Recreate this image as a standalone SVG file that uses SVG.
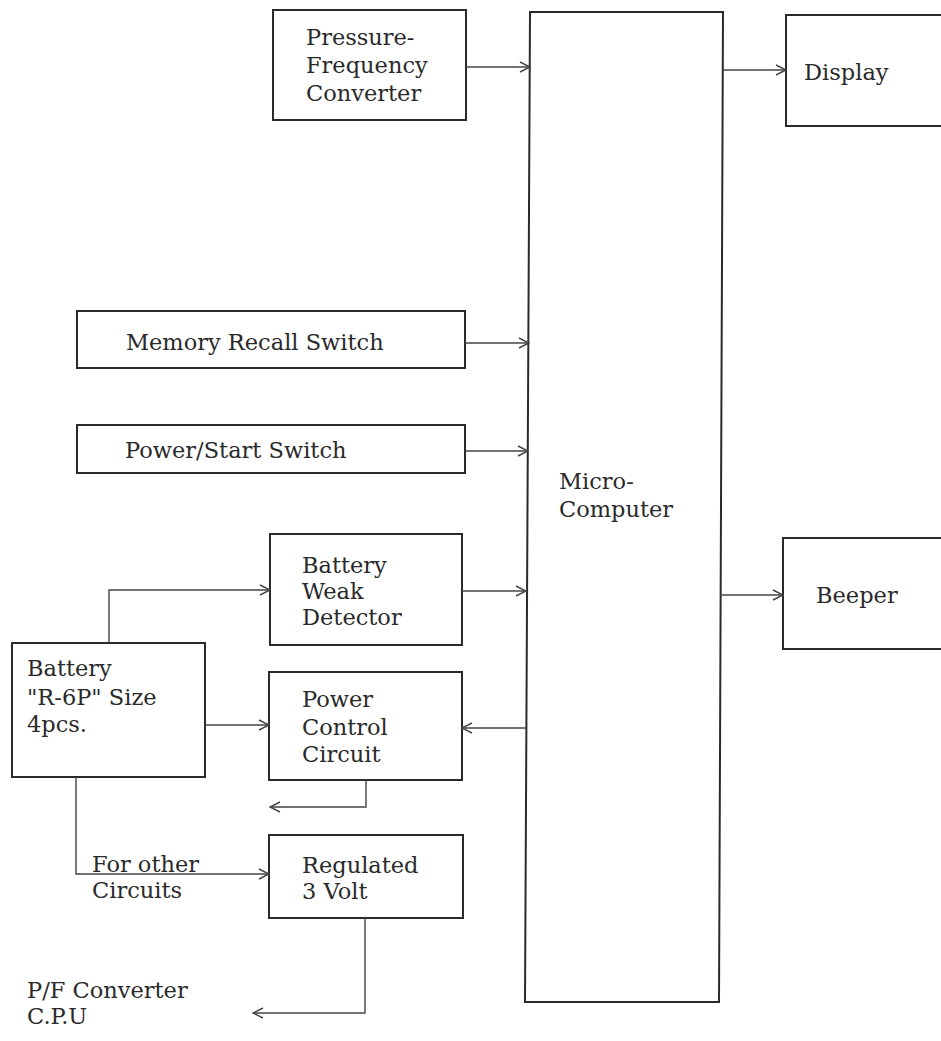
<svg xmlns="http://www.w3.org/2000/svg" width="941" height="1041" viewBox="0 0 941 1041">
<defs>
<style>
.box{fill:none;stroke:#2a2a2a;stroke-width:2}
.ln{fill:none;stroke:#444;stroke-width:1.4}
text{font-family:"DejaVu Serif","Liberation Serif",serif;font-size:22.5px;fill:#2a2a2a}
</style>
<marker id="arr" viewBox="0 0 12 12" refX="11" refY="6" markerWidth="12" markerHeight="12" markerUnits="userSpaceOnUse" orient="auto">
<path d="M1,1 L11,6 L1,11" fill="none" stroke="#444" stroke-width="1.4"/>
</marker>
</defs>
<rect width="941" height="1041" fill="#ffffff"/>
<g id="pf-converter"><rect class="box" x="273" y="10" width="193" height="110"/>
<text x="306" y="45">Pressure-</text><text x="306" y="73">Frequency</text><text x="306" y="101">Converter</text></g>
<g id="microcomputer"><path class="box" d="M530,12 H723 L719,1002 H525 Z"/>
<text x="559" y="489">Micro-</text><text x="559" y="517">Computer</text></g>
<g id="display"><rect class="box" x="786" y="15" width="170" height="111"/>
<text x="804" y="80">Display</text></g>
<g id="memory-recall"><rect class="box" x="77" y="311" width="388" height="57"/>
<text x="126" y="350">Memory Recall Switch</text></g>
<g id="power-start"><rect class="box" x="77" y="425" width="388" height="48"/>
<text x="125" y="458">Power/Start Switch</text></g>
<g id="battery-weak"><rect class="box" x="270" y="534" width="192" height="111"/>
<text x="302" y="573">Battery</text><text x="302" y="599">Weak</text><text x="302" y="625">Detector</text></g>
<g id="beeper"><rect class="box" x="783" y="538" width="170" height="111"/>
<text x="816" y="603">Beeper</text></g>
<g id="battery"><rect class="box" x="12" y="643" width="193" height="134"/>
<text x="27" y="676">Battery</text><text x="27" y="705">"R-6P" Size</text><text x="27" y="732">4pcs.</text></g>
<g id="power-control"><rect class="box" x="269" y="672" width="193" height="108"/>
<text x="302" y="707">Power</text><text x="302" y="735">Control</text><text x="302" y="762">Circuit</text></g>
<g id="regulated"><rect class="box" x="269" y="835" width="194" height="83"/>
<text x="302" y="873">Regulated</text><text x="302" y="899">3 Volt</text></g>
<g id="labels">
<text x="92" y="872">For other</text><text x="92" y="898">Circuits</text>
<text x="27" y="998">P/F Converter</text><text x="27" y="1024">C.P.U</text>
</g>
<g id="connectors">
<path class="ln" marker-end="url(#arr)" d="M466,67 H530"/>
<path class="ln" marker-end="url(#arr)" d="M723,70 H786"/>
<path class="ln" marker-end="url(#arr)" d="M465,343 H529"/>
<path class="ln" marker-end="url(#arr)" d="M465,451 H528"/>
<path class="ln" marker-end="url(#arr)" d="M462,591 H526"/>
<path class="ln" marker-end="url(#arr)" d="M720,595 H783"/>
<path class="ln" marker-end="url(#arr)" d="M109,643 V590 H270"/>
<path class="ln" marker-end="url(#arr)" d="M205,725 H269"/>
<path class="ln" marker-end="url(#arr)" d="M526,728 H462"/>
<path class="ln" marker-end="url(#arr)" d="M366,780 V807 H270"/>
<path class="ln" marker-end="url(#arr)" d="M76,777 V874 H269"/>
<path class="ln" marker-end="url(#arr)" d="M365,918 V1013 H253"/>
</g>
</svg>
